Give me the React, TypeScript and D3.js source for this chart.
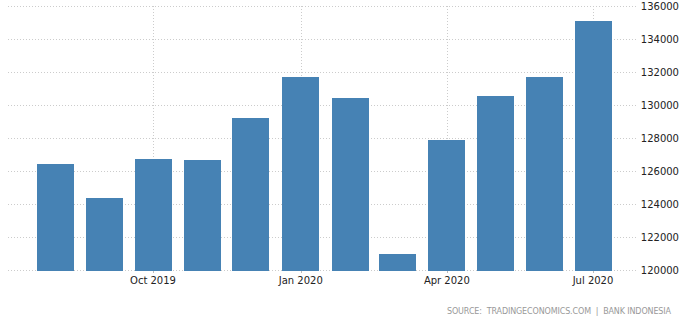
import React from "react";
import * as d3 from "d3";

const months = [
  "2019-08-01", "2019-09-01", "2019-10-01", "2019-11-01", "2019-12-01", "2020-01-01",
  "2020-02-01", "2020-03-01", "2020-04-01", "2020-05-01", "2020-06-01", "2020-07-01",
];
const values = [126420, 124350, 126720, 126660, 129200, 131700, 130420, 120980, 127880, 130560, 131700, 135090];
const yTicks = [120000, 122000, 124000, 126000, 128000, 130000, 132000, 134000, 136000];
const xTicks = ["2019-10-01", "2020-01-01", "2020-04-01", "2020-07-01"];
const xTickLabels = ["Oct 2019", "Jan 2020", "Apr 2020", "Jul 2020"];
const sourceText = "SOURCE:  TRADINGECONOMICS.COM  |  BANK INDONESIA";

const W = 686;
const H = 320;
const plotLeft = 8;
const plotRight = 638;
const plotTop = 6;
const plotBottom = 270;
const barWidth = 37;
const font = "'DejaVu Sans', Tahoma, Verdana, sans-serif";

export default function App() {
  const x = d3
    .scaleUtc()
    .domain([new Date("2019-10-01T00:00:00Z"), new Date("2020-07-01T00:00:00Z")])
    .range([153, 593]);
  const y = d3.scaleLinear().domain([120000, 136000]).range([plotBottom, plotTop]);
  const dates = months.map((m) => new Date(m + "T00:00:00Z"));

  return (
    <div style={{ position: "fixed", left: 0, top: 0 }}>
      <svg width={W} height={H} style={{ display: "block", background: "#fff" }}>
        {yTicks.map((t) => (
          <line
            key={"h" + t}
            x1={plotLeft}
            x2={plotRight}
            y1={Math.round(y(t)) + 0.5}
            y2={Math.round(y(t)) + 0.5}
            stroke="#cccccc"
            strokeWidth={1}
            strokeDasharray="1,2"
          />
        ))}
        {xTicks.map((t) => {
          const px = Math.round(x(new Date(t + "T00:00:00Z"))) + 0.5;
          return (
            <g key={"v" + t}>
              <line x1={px} x2={px} y1={plotTop} y2={plotBottom} stroke="#cccccc" strokeWidth={1} strokeDasharray="1,2" />
              <line x1={px} x2={px} y1={plotBottom} y2={plotBottom + 3} stroke="#bbbbbb" strokeWidth={1} />
            </g>
          );
        })}
        {dates.map((d, i) => {
          const cx = x(d);
          const top = Math.round(y(values[i]));
          return (
            <rect
              key={"b" + i}
              x={Math.round(cx - barWidth / 2)}
              y={top}
              width={barWidth}
              height={plotBottom + 1 - top}
              fill="#4682b4"
            />
          );
        })}
        {yTicks.map((t) => (
          <text
            key={"yl" + t}
            x={679}
            y={y(t) + 4}
            textAnchor="end"
            fontFamily={font}
            fontSize={10}
            fill="#222"
          >
            {t}
          </text>
        ))}
        {xTicks.map((t, i) => (
          <text
            key={"xl" + t}
            x={x(new Date(t + "T00:00:00Z"))}
            y={284}
            textAnchor="middle"
            fontFamily={font}
            fontSize={10}
            fill="#222"
          >
            {xTickLabels[i]}
          </text>
        ))}
        <text
          x={447}
          y={314}
          fontFamily={font}
          fontSize={8}
          fill="#999"
          textLength={224}
          lengthAdjust="spacing"
          style={{ whiteSpace: "pre" }}
        >
          {sourceText}
        </text>
      </svg>
    </div>
  );
}
